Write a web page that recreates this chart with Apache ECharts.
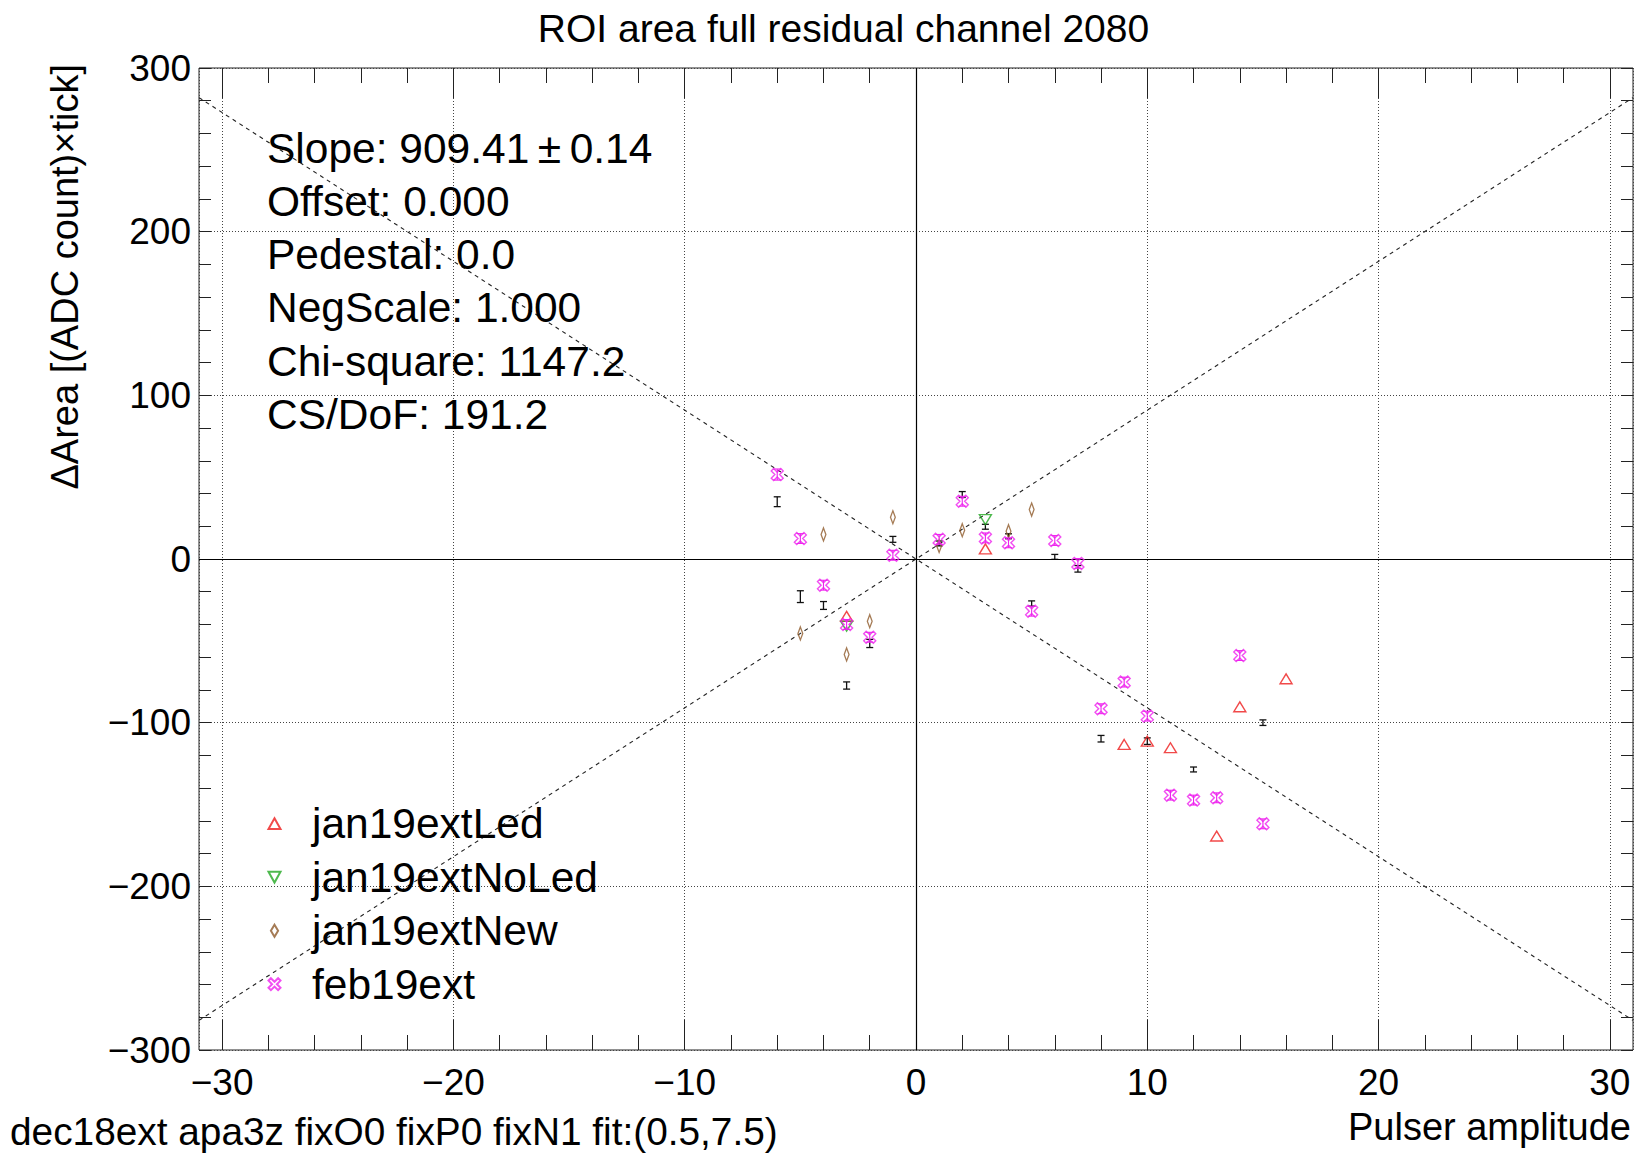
<!DOCTYPE html>
<html><head><meta charset="utf-8">
<script src="https://cdn.jsdelivr.net/npm/echarts@6/dist/echarts.min.js"></script>
<style>html,body{margin:0;padding:0;background:#fff}#c{width:1637px;height:1153px}</style>
</head><body><div id="c"></div>
<script>
// ---- texts ----
const titleText = 'ROI area full residual channel 2080';
const xAxisTitle = 'Pulser amplitude';
const yAxisTitle = 'ΔArea [(ADC count)×tick]';
const noteText = 'dec18ext apa3z fixO0 fixP0 fixN1 fit:(0.5,7.5)';
const statsLines = ['Slope: 909.41\u2009±\u20090.14', 'Offset: 0.000', 'Pedestal: 0.0', 'NegScale: 1.000', 'Chi-square: 1147.2', 'CS/DoF: 191.2'];
const legendNames = ['jan19extLed', 'jan19extNoLed', 'jan19extNew', 'feb19ext'];

// ---- ticks ----
const xMajorTicks = [-30, -20, -10, 0, 10, 20, 30];
const xMinorTicks = [-28, -26, -24, -22, -18, -16, -14, -12, -8, -6, -4, -2, 2, 4, 6, 8, 12, 14, 16, 18, 22, 24, 26, 28];

// ---- data ----
// dec18ext (error bars only)
const decX = [-6, -5, -4, -3, -2, -1, 1, 2, 3, 4, 5, 6, 7, 8, 10, 12, 15];
const decY = [35, -23, -28.4, -77.3, -51.6, 12, 9.5, 39.4, 19.7, 13.9, -27.2, 1.3, -6, -109.8, -111.3, -128.6, -100];
const decErr = [3, 3.6, 2.4, 2.2, 2.5, 1.8, 1.5, 1.8, 1.5, 1.5, 1.6, 1.5, 2, 2, 2, 1.5, 1.7];
// jan19extLed
const ledX = [-3, 3, 9, 10, 11, 13, 14, 16];
const ledY = [-35, 6.2, -113.3, -111.3, -115.3, -169.3, -90.3, -73.2];
// jan19extNoLed
const noLedX = [-3, 3];
const noLedY = [-41, 24.1];
// jan19extNew
const newX = [-5, -4, -3, -2, -1, 1, 2, 4, 5];
const newY = [-45.5, 15, -58.3, -38, 25.5, 8, 17.6, 17, 30.2];
// feb19ext
const febX = [-6, -5, -4, -3, -2, -1, 1, 2, 3, 4, 5, 6, 7, 8, 9, 10, 11, 12, 13, 14, 15];
const febY = [51.6, 12.5, -16, -40, -47.8, 2.3, 12, 35.3, 12.9, 9.9, -31.9, 11.3, -2.7, -91.5, -75.2, -96, -144.3, -147.3, -145.9, -59, -161.8];
const febErr = [3.4, 3, 3, 3, 3, 3, 3, 3, 3, 3, 3, 3, 3, 3, 3, 3, 3, 3, 3, 3, 3];
// fit guide lines
const fitX = [-31, 31];
const fitPosY = [-281.9, 281.9];
const fitNegY = [281.9, -281.9];

const zip2 = (a, b) => a.map((v, i) => [v, b[i]]);
const zip3 = (a, b, c) => a.map((v, i) => [v, b[i], c[i]]);
const minus = v => String(v).replace('-', '\u2212');

const FONT = '"Liberation Sans", Arial, Helvetica, sans-serif';
const triUp = 'path://M5,0L10,9L0,9Z';
const triDown = 'path://M0,0L10,0L5,9Z';
const diamond = 'path://M3,0L6,5L3,10L0,5Z';
const openX = 'path://M2,0L5,3L8,0L10,2L7,5L10,8L8,10L5,7L2,10L0,8L3,5L0,2Z';

const C_RED = '#ee1c1c', C_GREEN = '#22a822', C_BROWN = '#8f5a2a', C_MAG = '#ee22ee';

function errRender(cap, lw) {
  return function (params, api) {
    const x = api.value(0), y = api.value(1), e = api.value(2);
    const lo = api.coord([x, y - e]), hi = api.coord([x, y + e]);
    const st = { stroke: api.visual('color'), lineWidth: lw };
    return { type: 'group', children: [
      { type: 'line', shape: { x1: lo[0], y1: lo[1], x2: hi[0], y2: hi[1] }, style: st },
      { type: 'line', shape: { x1: lo[0] - cap, y1: lo[1], x2: lo[0] + cap, y2: lo[1] }, style: st },
      { type: 'line', shape: { x1: hi[0] - cap, y1: hi[1], x2: hi[0] + cap, y2: hi[1] }, style: st }
    ]};
  };
}

function scatter(name, xs, ys, sym, size, color, bw) {
  return {
    name, type: 'scatter', xAxisIndex: 0, yAxisIndex: 0, data: zip2(xs, ys),
    symbol: sym, symbolSize: size, symbolKeepAspect: true,
    itemStyle: { color: 'rgba(0,0,0,0)', borderColor: color, borderWidth: bw },
    emphasis: { disabled: true }, z: 5
  };
}

const tickLine = { color: '#222', width: 1 };
const baseX = { type: 'value', min: -31, max: 31, gridIndex: 0 };
function tickAxis(pos, values, len, labels) {
  return Object.assign({}, baseX, {
    position: pos,
    axisLine: { show: false, onZero: false },
    splitLine: { show: false },
    axisTick: { show: true, inside: true, length: len, customValues: values, lineStyle: tickLine },
    axisLabel: labels ? { show: true, customValues: values, formatter: minus, fontSize: 37, fontFamily: FONT, color: '#000', margin: 14 } : { show: false }
  });
}

const chart = echarts.init(document.getElementById('c'), null, { renderer: 'svg' });
const graphics = [
  { type: 'text', x: 843.5, y: 28, style: { text: titleText, font: '39px ' + FONT, fill: '#000', align: 'center', verticalAlign: 'middle' } },
  { type: 'text', x: 10, y: 1131, style: { text: noteText, font: '38.8px ' + FONT, fill: '#000', align: 'left', verticalAlign: 'middle' } },
  { type: 'text', x: 1631, y: 1127, style: { text: xAxisTitle, font: '38px ' + FONT, fill: '#000', align: 'right', verticalAlign: 'middle' } },
  { type: 'text', x: 65, y: 64, rotation: Math.PI / 2, style: { text: yAxisTitle, font: '38px ' + FONT, fill: '#000', align: 'right', verticalAlign: 'middle' } }
];
statsLines.forEach((t, i) => graphics.push({ type: 'text', x: 267, y: 148 + i * 53.3, z: 10,
  style: { text: t, font: '42.5px ' + FONT, fill: '#000', align: 'left', verticalAlign: 'middle' } }));

chart.setOption({
  animation: false,
  backgroundColor: '#fff',
  grid: { left: 199, right: 4, top: 68, bottom: 103, show: true, borderColor: '#222', borderWidth: 1, containLabel: false },
  xAxis: [
    Object.assign({}, baseX, {
      position: 'bottom', splitNumber: 6,
      axisLine: { show: false, onZero: false }, axisTick: { show: false }, axisLabel: { show: false },
      splitLine: { show: true, lineStyle: { color: '#444', type: [1, 2], width: 1 } }
    }),
    tickAxis('bottom', xMajorTicks, 30, true),
    tickAxis('bottom', xMinorTicks, 15, false),
    tickAxis('top', xMajorTicks, 30, false),
    tickAxis('top', xMinorTicks, 15, false)
  ],
  yAxis: [
    { type: 'value', min: -300, max: 300, interval: 100, position: 'left',
      axisLine: { show: false, onZero: false },
      axisTick: { show: true, inside: true, length: 12, lineStyle: tickLine },
      minorTick: { show: true, splitNumber: 5, length: 12, lineStyle: tickLine },
      splitLine: { show: true, lineStyle: { color: '#444', type: [1, 2], width: 1 } },
      axisLabel: { formatter: minus, fontSize: 37, fontFamily: FONT, color: '#000', margin: 8 } },
    { type: 'value', min: -300, max: 300, interval: 100, position: 'right',
      axisLine: { show: false, onZero: false },
      axisTick: { show: true, inside: true, length: 12, lineStyle: tickLine },
      minorTick: { show: true, splitNumber: 5, length: 12, lineStyle: tickLine },
      splitLine: { show: false }, axisLabel: { show: false } }
  ],
  legend: {
    data: legendNames, orient: 'vertical', left: 267.5, top: 801.7, padding: 0,
    itemWidth: 12, itemHeight: 12, itemGap: 9.5, symbolKeepAspect: true,
    formatter: n => '{p|}' + n,
    textStyle: { fontSize: 42.5, lineHeight: 44, fontFamily: FONT, color: '#000', rich: { p: { width: 26.5 } } },
    selectedMode: false
  },
  graphic: graphics,
  series: [
    { name: 'fitPos', type: 'line', xAxisIndex: 0, yAxisIndex: 0, data: zip2(fitX, fitPosY), showSymbol: false, symbol: 'none',
      lineStyle: { color: '#222', width: 1.1, type: [4, 4] }, silent: true, z: 2,
      markLine: { silent: true, symbol: ['none', 'none'], label: { show: false },
        lineStyle: { color: '#000', type: 'solid', width: 1.2 }, data: [{ xAxis: 0 }, { yAxis: 0 }] } },
    { name: 'fitNeg', type: 'line', xAxisIndex: 0, yAxisIndex: 0, data: zip2(fitX, fitNegY), showSymbol: false, symbol: 'none',
      lineStyle: { color: '#222', width: 1.1, type: [4, 4] }, silent: true, z: 2 },
    { name: 'dec18ext', type: 'custom', xAxisIndex: 0, yAxisIndex: 0, data: zip3(decX, decY, decErr),
      renderItem: errRender(3.5, 1.3), itemStyle: { color: '#111' }, silent: true, z: 3 },
    { name: 'febErr', type: 'custom', xAxisIndex: 0, yAxisIndex: 0, data: zip3(febX, febY, febErr),
      renderItem: errRender(3.5, 1.1), itemStyle: { color: C_MAG }, silent: true, z: 6 },
    scatter('jan19extLed', ledX, ledY, triUp, [12, 11], C_RED, 1.4),
    scatter('jan19extNoLed', noLedX, noLedY, triDown, [12, 11], C_GREEN, 1.4),
    scatter('jan19extNew', newX, newY, diamond, [8, 13], C_BROWN, 1.5),
    scatter('feb19ext', febX, febY, openX, [12, 12], C_MAG, 1.4)
  ]
});
</script></body></html>
